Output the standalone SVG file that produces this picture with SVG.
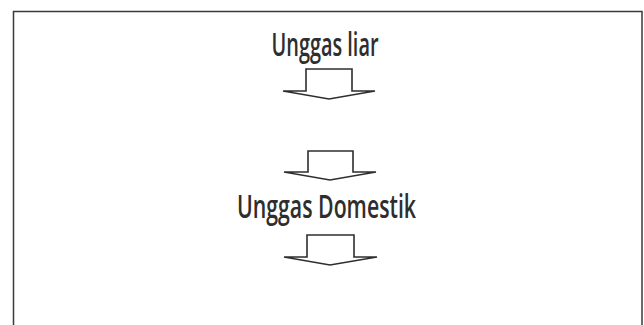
<svg xmlns="http://www.w3.org/2000/svg" width="644" height="325" viewBox="0 0 644 325">
  <style>
    .lbl { font-family: "Open Sans", "Liberation Sans", sans-serif; font-size: 33px; font-weight: 600; fill: #2e2e2e; text-anchor: middle; }
    .arrow { fill: #ffffff; stroke: #2e2e2e; stroke-width: 1.6; stroke-linejoin: miter; }
    .frame { fill: none; stroke: #3a3a3a; stroke-width: 1.5; }
  </style>
  <rect x="0" y="0" width="644" height="325" fill="#ffffff"/>
  <path class="frame" d="M13.5,330 L13.5,11.5 L642,11.5 L642,330"/>
  <g id="node-unggas-liar">
    <text class="lbl" x="325" y="56" textLength="107" lengthAdjust="spacingAndGlyphs">Unggas liar</text>
  </g>
  <g id="node-unggas-domestik">
    <text class="lbl" x="326.5" y="218" textLength="179" lengthAdjust="spacingAndGlyphs">Unggas Domestik</text>
  </g>
  <g id="connectors">
    <path class="arrow" d="M306,91 L306,69 L352,69 L352,91 L375,91 L329,99 L283,91 Z"/>
    <path class="arrow" d="M308,172 L308,151 L353,151 L353,172 L376,172 L330,180 L284,172 Z"/>
    <path class="arrow" d="M307,257 L307,235 L354,235 L354,257 L377,257 L330,265 L284,257 Z"/>
  </g>
</svg>
